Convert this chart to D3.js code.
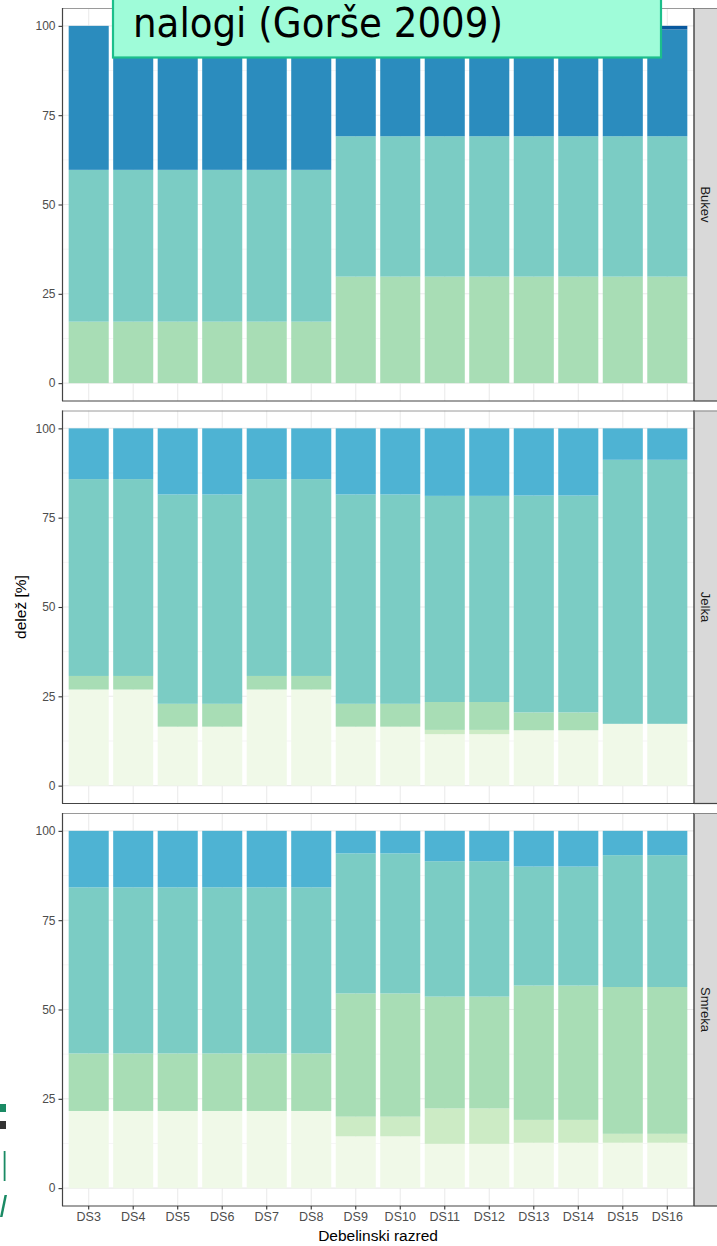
<!DOCTYPE html>
<html>
<head>
<meta charset="utf-8">
<script src="https://cdn.jsdelivr.net/npm/d3@7/dist/d3.min.js"></script>
<style>
  html, body { margin: 0; padding: 0; background: #fff; }
  svg { display: block; }
</style>
</head>
<body>
<svg id="chart" width="717" height="1246"></svg>
<script>
// ---------------- DATA ----------------
const categories = ["DS3","DS4","DS5","DS6","DS7","DS8","DS9","DS10","DS11","DS12","DS13","DS14","DS15","DS16"];
const species = ["Bukev","Jelka","Smreka"];
const classKeys = ["c1","c2","c3","c4","c5","c6","c7"];
const classColors = ["#f0f9e8","#ccebc5","#a8ddb5","#7bccc4","#4eb3d3","#2b8cbe","#08589e"];
const yTicks = [0,25,50,75,100];
const yMinor = [12.5,37.5,62.5,87.5];

// Bukev
const bukev_c1 = [0,0,0,0,0,0,0,0,0,0,0,0,0,0];
const bukev_c2 = [0,0,0,0,0,0,0,0,0,0,0,0,0,0];
const bukev_c3 = [17.2,17.2,17.2,17.2,17.2,17.2,29.8,29.8,29.8,29.8,29.8,29.8,29.8,29.8];
const bukev_c4 = [42.5,42.5,42.5,42.5,42.5,42.5,39.3,39.3,39.3,39.3,39.3,39.3,39.3,39.3];
const bukev_c5 = [0,0,0,0,0,0,0,0,0,0,0,0,0,0];
const bukev_c6 = [40.3,40.3,40.3,40.3,40.3,40.3,29.9,29.9,29.9,29.9,29.9,29.9,29.9,29.9];
const bukev_c7 = [0,0,0,0,0,0,1.0,1.0,1.0,1.0,1.0,1.0,1.0,1.0];

// Jelka
const jelka_c1 = [26.9,26.9,16.5,16.5,26.9,26.9,16.5,16.5,14.4,14.4,15.5,15.5,17.3,17.3];
const jelka_c2 = [0,0,0,0,0,0,0,0,1.2,1.2,0,0,0,0];
const jelka_c3 = [3.8,3.8,6.4,6.4,3.8,3.8,6.4,6.4,7.8,7.8,5.0,5.0,0,0];
const jelka_c4 = [55.1,55.1,58.6,58.6,55.1,55.1,58.6,58.6,57.7,57.7,60.7,60.7,73.9,73.9];
const jelka_c5 = [14.2,14.2,18.5,18.5,14.2,14.2,18.5,18.5,18.9,18.9,18.8,18.8,8.8,8.8];
const jelka_c6 = [0,0,0,0,0,0,0,0,0,0,0,0,0,0];
const jelka_c7 = [0,0,0,0,0,0,0,0,0,0,0,0,0,0];

// Smreka
const smreka_c1 = [21.6,21.6,21.6,21.6,21.6,21.6,14.5,14.5,12.4,12.4,12.7,12.7,12.7,12.7];
const smreka_c2 = [0,0,0,0,0,0,5.5,5.5,9.9,9.9,6.4,6.4,2.5,2.5];
const smreka_c3 = [16.1,16.1,16.1,16.1,16.1,16.1,34.5,34.5,31.3,31.3,37.6,37.6,41.1,41.1];
const smreka_c4 = [46.5,46.5,46.5,46.5,46.5,46.5,39.2,39.2,37.9,37.9,33.3,33.3,36.9,36.9];
const smreka_c5 = [15.8,15.8,15.8,15.8,15.8,15.8,6.3,6.3,8.5,8.5,10.0,10.0,6.8,6.8];
const smreka_c6 = [0,0,0,0,0,0,0,0,0,0,0,0,0,0];
const smreka_c7 = [0,0,0,0,0,0,0,0,0,0,0,0,0,0];

const titleText = "nalogi (Gorše 2009)";
const xTitle = "Debelinski razred";
const yTitle = "delež [%]";

// ---------------- BUILD TABLES ----------------
const seriesBySpecies = {
  Bukev: [bukev_c1,bukev_c2,bukev_c3,bukev_c4,bukev_c5,bukev_c6,bukev_c7],
  Jelka: [jelka_c1,jelka_c2,jelka_c3,jelka_c4,jelka_c5,jelka_c6,jelka_c7],
  Smreka:[smreka_c1,smreka_c2,smreka_c3,smreka_c4,smreka_c5,smreka_c6,smreka_c7]
};
function table(sp) {
  return categories.map((c, i) => {
    const row = {cat: c};
    classKeys.forEach((k, j) => row[k] = seriesBySpecies[sp][j][i]);
    return row;
  });
}

// ---------------- LAYOUT ----------------
const svg = d3.select("#chart");
const font = "'Liberation Sans', Arial, sans-serif";
const plotL = 62, plotR = 694;
const panelTops = [8, 410.5, 813];
const panelH = 393;
const stripW = 25;

const x = d3.scaleBand().domain(categories).range([plotL, plotR])
  .paddingInner(0.1).paddingOuter(0.15);
const color = d3.scaleOrdinal().domain(classKeys).range(classColors);
const stack = d3.stack().keys(classKeys);

svg.append("rect").attr("width",717).attr("height",1246).attr("fill","#fff");

species.forEach((sp, pi) => {
  const top = panelTops[pi], bottom = top + panelH;
  const y = d3.scaleLinear().domain([-5, 105]).range([bottom, top]);
  const g = svg.append("g");

  // grid
  g.selectAll(".gmin").data(yMinor).join("line")
    .attr("x1", plotL).attr("x2", plotR)
    .attr("y1", d => y(d)).attr("y2", d => y(d))
    .attr("stroke", "#f2f2f2").attr("stroke-width", 0.7);
  g.selectAll(".gmaj").data(yTicks).join("line")
    .attr("x1", plotL).attr("x2", plotR)
    .attr("y1", d => y(d)).attr("y2", d => y(d))
    .attr("stroke", "#ebebeb").attr("stroke-width", 1.1);
  g.selectAll(".gx").data(categories).join("line")
    .attr("x1", d => x(d) + x.bandwidth()/2).attr("x2", d => x(d) + x.bandwidth()/2)
    .attr("y1", top).attr("y2", bottom)
    .attr("stroke", "#ebebeb").attr("stroke-width", 1.1);

  // bars
  const stacked = stack(table(sp));
  g.selectAll(".layer").data(stacked).join("g")
    .attr("fill", d => color(d.key))
    .selectAll("rect").data(d => d.filter(s => s[1] - s[0] > 0)).join("rect")
      .attr("x", d => x(d.data.cat))
      .attr("width", x.bandwidth())
      .attr("y", d => y(d[1]))
      .attr("height", d => y(d[0]) - y(d[1]));

  // panel border
  g.append("line").attr("x1", plotL).attr("x2", plotR).attr("y1", top+0.5).attr("y2", top+0.5)
    .attr("stroke", "#9a9a9a").attr("stroke-width", 1);
  g.append("line").attr("x1", plotL+0.5).attr("x2", plotL+0.5).attr("y1", top).attr("y2", bottom)
    .attr("stroke", "#444").attr("stroke-width", 1.2);
  g.append("line").attr("x1", plotL).attr("x2", plotR).attr("y1", bottom).attr("y2", bottom)
    .attr("stroke", "#444").attr("stroke-width", 1.2);

  // strip
  g.append("rect").attr("x", plotR).attr("y", top).attr("width", stripW).attr("height", panelH)
    .attr("fill", "#d9d9d9");
  g.append("line").attr("x1", plotR).attr("x2", plotR).attr("y1", top).attr("y2", bottom)
    .attr("stroke", "#333").attr("stroke-width", 1.3);
  g.append("line").attr("x1", plotR).attr("x2", plotR+stripW).attr("y1", top+0.5).attr("y2", top+0.5)
    .attr("stroke", "#888").attr("stroke-width", 1);
  g.append("line").attr("x1", plotR).attr("x2", plotR+stripW).attr("y1", bottom).attr("y2", bottom)
    .attr("stroke", "#444").attr("stroke-width", 1.2);
  g.append("text")
    .attr("transform", `translate(${plotR + 12},${(top+bottom)/2}) rotate(90)`)
    .attr("text-anchor", "middle").attr("dy", "0.35em")
    .attr("font-family", font).attr("font-size", 13).attr("fill", "#1a1a1a")
    .text(sp);

  // y axis
  const ya = d3.axisLeft(y).tickValues(yTicks).tickSize(3.5).tickPadding(3);
  const yg = g.append("g").attr("transform", `translate(${plotL},0)`).call(ya);
  yg.select(".domain").remove();
  yg.selectAll(".tick line").attr("stroke", "#333").attr("stroke-width", 1.1);
  yg.selectAll(".tick text").attr("font-family", font).attr("font-size", 12).attr("fill", "#4d4d4d");

  if (pi === species.length - 1) {
    const xa = d3.axisBottom(x).tickSize(3.5).tickPadding(3);
    const xg = g.append("g").attr("transform", `translate(0,${bottom})`).call(xa);
    xg.select(".domain").remove();
    xg.selectAll(".tick line").attr("stroke", "#333").attr("stroke-width", 1.1);
    xg.selectAll(".tick text").attr("font-family", font).attr("font-size", 12.5).attr("fill", "#4d4d4d");
  }
});

// axis titles
svg.append("text")
  .attr("x", (plotL + plotR)/2).attr("y", 1241)
  .attr("text-anchor", "middle")
  .attr("font-family", font).attr("font-size", 15.5).attr("fill", "#000")
  .text(xTitle);
svg.append("text")
  .attr("transform", `translate(26,${(panelTops[0] + panelTops[2] + panelH)/2}) rotate(-90)`)
  .attr("text-anchor", "middle")
  .attr("font-family", font).attr("font-size", 15.5).attr("fill", "#000")
  .text(yTitle);

// title box overlay (slide)
svg.append("rect")
  .attr("x", 113).attr("y", -20).attr("width", 548).attr("height", 77.5)
  .attr("fill", "#9ffcd9").attr("stroke", "#1cbf8b").attr("stroke-width", 2.2);
const tt = svg.append("text")
  .attr("x", 133).attr("y", 37)
  .attr("font-family", "'DejaVu Sans Condensed', 'DejaVu Sans', sans-serif")
  .attr("font-size", 36).attr("fill", "#000")
  .text(titleText);
const tl = tt.node().getComputedTextLength();
tt.attr("font-size", 36 * 370 / tl);

// slide logo fragments on left edge
svg.append("rect").attr("x", 0).attr("y", 1104).attr("width", 6).attr("height", 8).attr("fill", "#1a8a64");
svg.append("rect").attr("x", 0).attr("y", 1121).attr("width", 6).attr("height", 8).attr("fill", "#333");
svg.append("rect").attr("x", 3.7).attr("y", 1151).attr("width", 1.8).attr("height", 30).attr("fill", "#1a8a64");
svg.append("path").attr("d", "M4.5,1195 L7,1195 L2.5,1217 L0,1217 Z").attr("fill", "#1a8a64");
</script>
</body>
</html>
